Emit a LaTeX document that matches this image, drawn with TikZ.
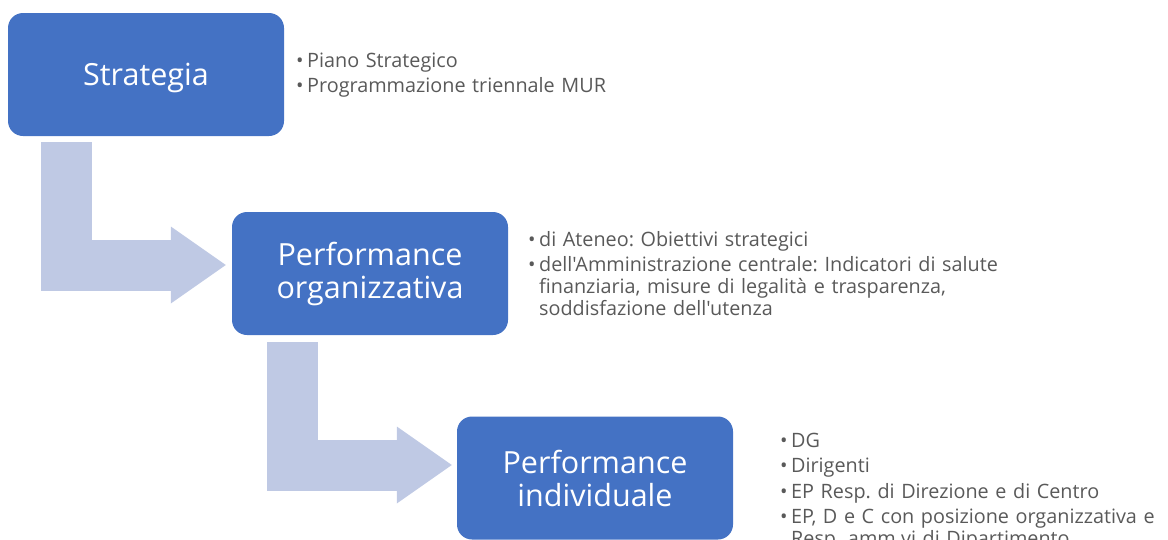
\documentclass[tikz,border=0pt]{standalone}
\usepackage{fontspec}
\setmainfont{Open Sans}[Ligatures=TeXOff]
\usetikzlibrary{arrows.meta}

\definecolor{boxblue}{HTML}{4472C4}
\definecolor{arrowblue}{HTML}{BFC9E4}
\definecolor{listgray}{HTML}{595959}

\newcommand{\bitem}[1]{\setlength{\parskip}{3.5pt}\hangindent=11pt\hangafter=1
  \makebox[11pt][l]{\textbullet}#1\par}

\begin{document}
\begin{tikzpicture}[x=1pt, y=-1pt,
    stage/.style={fill=boxblue, rounded corners=15pt, minimum width=276pt,
      minimum height=123pt, inner sep=0pt, text=white, align=center,
      font=\fontsize{30.5}{33}\selectfont},
    items/.style={anchor=base west, inner sep=0pt, text width=560pt,
      align=left, text=listgray, font=\frenchspacing\fontsize{19.8}{22}\selectfont},
    bentarrow/.style={draw=arrowblue, line width=51pt, line join=miter,
      -{Triangle[width=77pt, length=55pt, line width=0pt]}}]
      \useasboundingbox (0,0) rectangle (1168,539);
      \clip (0,0) rectangle (1168,539);

      % Strategia
      \node[stage, text height=29pt] (strat) at (146,74.5) {Strategia};
      \node[items] (stratlist) at (296,67)
        {\bitem{Piano Strategico}\bitem{Programmazione triennale MUR}};

      % Performance organizzativa
      \node[stage] (org) at (370,273.5) {Performance\\organizzativa};
      \node[items] (orglist) at (528,246)
        {\bitem{di Ateneo: Obiettivi strategici}%
         \bitem{dell'Amministrazione centrale: Indicatori di salute\newline
           finanziaria, misure di legalità e trasparenza,\newline
           soddisfazione dell'utenza}};

      % Performance individuale
      \node[stage] (ind) at (595,478) {Performance\\individuale};
      \node[items] (indlist) at (780,447)
        {\bitem{DG}\bitem{Dirigenti}%
         \bitem{EP Resp. di Direzione e di Centro}%
         \bitem{EP, D e C con posizione organizzativa e\newline
           Resp. amm.vi di Dipartimento}};

      % bent arrows
      \draw[bentarrow] ([xshift=58.5pt, yshift=-6pt]strat.south west)
        |- ([xshift=-6pt, yshift=8.5pt]org.west);
      \draw[bentarrow] ([xshift=61pt, yshift=-7pt]org.south west)
        |- ([xshift=-5pt, yshift=13pt]ind.west);
    \end{tikzpicture}
\end{document}
